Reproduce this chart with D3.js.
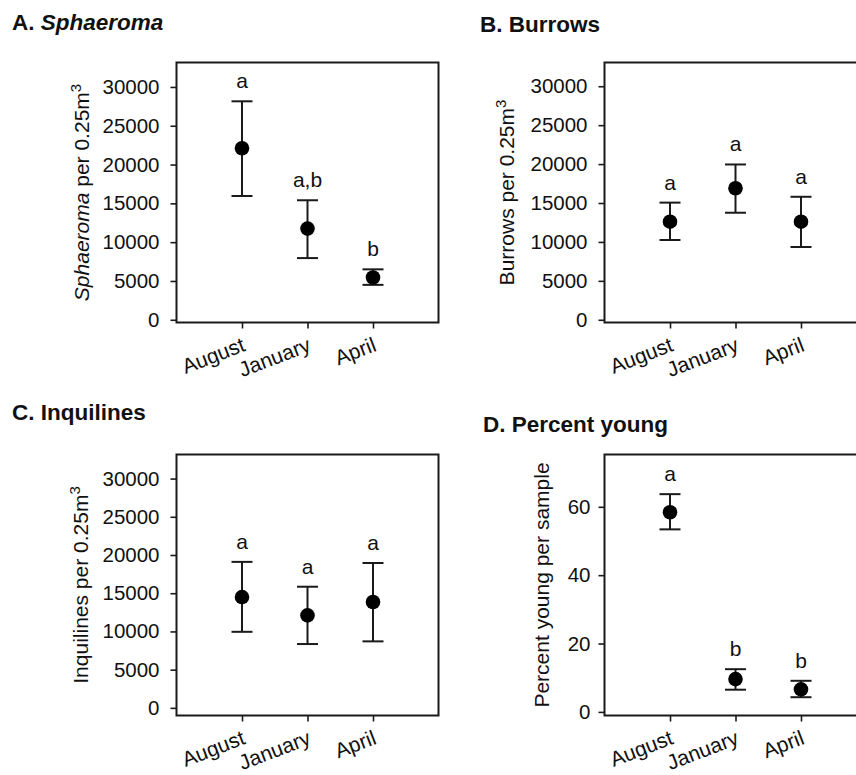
<!DOCTYPE html>
<html>
<head>
<meta charset="utf-8">
<script src="https://cdn.jsdelivr.net/npm/d3@7"></script>
<style>
  html, body { margin: 0; padding: 0; background: #fff; }
  svg { display: block; }
  text { font-family: "Liberation Sans", Arial, sans-serif; fill: #111; }
</style>
</head>
<body>
<svg id="chart" width="856" height="775"></svg>
<script>
// ---------- data ----------
const months = ["August", "January", "April"];

const sphaeromaMean  = [22100, 11750, 5450];
const sphaeromaUpper = [28150, 15400, 6500];
const sphaeromaLower = [15950, 7950, 4500];
const sphaeromaLetters = ["a", "a,b", "b"];

const burrowsMean  = [12600, 16900, 12600];
const burrowsUpper = [15050, 19950, 15800];
const burrowsLower = [10250, 13750, 9350];
const burrowsLetters = ["a", "a", "a"];

const inquilinesMean  = [14500, 12100, 13850];
const inquilinesUpper = [19100, 15850, 18950];
const inquilinesLower = [9950, 8350, 8700];
const inquilinesLetters = ["a", "a", "a"];

const youngMean  = [58.4, 9.6, 6.6];
const youngUpper = [63.7, 12.5, 9.1];
const youngLower = [53.4, 6.5, 4.3];
const youngLetters = ["a", "b", "b"];

const countTicks = [0, 5000, 10000, 15000, 20000, 25000, 30000];
const percentTicks = [0, 20, 40, 60];

// ---------- layout ----------
const ink = "#1a1a1a";
const svg = d3.select("#chart");

const panels = [
  { title: [["A. ", false], ["Sphaeroma", true]], ylab: [["Sphaeroma", true], [" per 0.25m", false]], sup: "3",
    mean: sphaeromaMean, upper: sphaeromaUpper, lower: sphaeromaLower, letters: sphaeromaLetters,
    ticks: countTicks, domain: [-350, 33150],
    box: { x0: 176.5, x1: 438.5, y0: 62.5, y1: 322.5 }, titlePos: [12, 30], ylabX: 88, pad: 11 },
  { title: [["B. Burrows", false]], ylab: [["Burrows per 0.25m", false]], sup: "3",
    mean: burrowsMean, upper: burrowsUpper, lower: burrowsLower, letters: burrowsLetters,
    ticks: countTicks, domain: [-350, 33050],
    box: { x0: 604.5, x1: 866.5, y0: 62.5, y1: 322.5 }, titlePos: [480, 32], ylabX: 91, pad: 11 },
  { title: [["C. Inquilines", false]], ylab: [["Inquilines per 0.25m", false]], sup: "3",
    mean: inquilinesMean, upper: inquilinesUpper, lower: inquilinesLower, letters: inquilinesLetters,
    ticks: countTicks, domain: [-1000, 33150],
    box: { x0: 176.5, x1: 438.5, y0: 454.5, y1: 715.5 }, titlePos: [12, 420], ylabX: 89, pad: 11 },
  { title: [["D. Percent young", false]], ylab: [["Percent young per sample", false]], sup: null,
    mean: youngMean, upper: youngUpper, lower: youngLower, letters: youngLetters,
    ticks: percentTicks, domain: [-1.05, 75.3],
    box: { x0: 604.5, x1: 866.5, y0: 454.5, y1: 715.5 }, titlePos: [483, 432], ylabX: 56, pad: 8 }
];

panels.forEach(p => {
  const b = p.box;
  const x = d3.scalePoint().domain(months).range([b.x0, b.x1]).padding(1);
  const y = d3.scaleLinear().domain(p.domain).range([b.y1, b.y0]);
  const g = svg.append("g");

  // title
  const t = g.append("text")
    .attr("x", p.titlePos[0]).attr("y", p.titlePos[1])
    .style("font-size", "22.5px").style("font-weight", "bold");
  p.title.forEach(([s, it]) => t.append("tspan").text(s).style("font-style", it ? "italic" : "normal"));

  // y axis
  const ya = g.append("g").attr("transform", `translate(${b.x0},0)`)
    .call(d3.axisLeft(y).tickValues(p.ticks).tickSize(6).tickPadding(p.pad).tickFormat(d3.format("d")));
  ya.select(".domain").remove();
  ya.selectAll("line").attr("stroke", ink).attr("stroke-width", 1.6);
  ya.selectAll("text").style("font-size", "20.5px").attr("fill", "#111").attr("font-family", null);

  // x axis
  const xa = g.append("g").attr("transform", `translate(0,${b.y1})`)
    .call(d3.axisBottom(x).tickSize(6).tickFormat(""));
  xa.select(".domain").remove();
  xa.selectAll("line").attr("stroke", ink).attr("stroke-width", 1.6);
  xa.selectAll(".tick").append("text")
    .attr("text-anchor", "end")
    .attr("transform", "translate(4,28) rotate(-21)")
    .style("font-size", "21px")
    .attr("fill", "#111")
    .text(d => d);

  // frame
  g.append("rect")
    .attr("x", b.x0).attr("y", b.y0)
    .attr("width", b.x1 - b.x0).attr("height", b.y1 - b.y0)
    .attr("fill", "none").attr("stroke", ink).attr("stroke-width", 2);

  // y label
  const yl = g.append("text")
    .attr("transform", `translate(${b.x0 - p.ylabX},${(b.y0 + b.y1) / 2}) rotate(-90)`)
    .attr("text-anchor", "middle")
    .style("font-size", "21px");
  p.ylab.forEach(([s, it]) => yl.append("tspan").text(s).style("font-style", it ? "italic" : "normal"));
  if (p.sup) yl.append("tspan").text(p.sup).attr("dy", -8).style("font-size", "15px");

  // error bars + points
  const data = months.map((m, i) => ({ m, mean: p.mean[i], up: p.upper[i], lo: p.lower[i], letter: p.letters[i] }));
  const eg = g.selectAll(".pt").data(data).enter().append("g");
  eg.append("line")
    .attr("x1", d => x(d.m)).attr("x2", d => x(d.m))
    .attr("y1", d => y(d.up)).attr("y2", d => y(d.lo))
    .attr("stroke", ink).attr("stroke-width", 2);
  ["up", "lo"].forEach(k => {
    eg.append("line")
      .attr("x1", d => x(d.m) - 10.5).attr("x2", d => x(d.m) + 10.5)
      .attr("y1", d => y(d[k])).attr("y2", d => y(d[k]))
      .attr("stroke", ink).attr("stroke-width", 2);
  });
  eg.append("circle")
    .attr("cx", d => x(d.m)).attr("cy", d => y(d.mean))
    .attr("r", 7.3).attr("fill", "#000");
  eg.append("text")
    .attr("x", d => x(d.m)).attr("y", d => y(d.up) - 13)
    .attr("text-anchor", "middle")
    .style("font-size", "21px")
    .text(d => d.letter);
});
</script>
</body>
</html>
